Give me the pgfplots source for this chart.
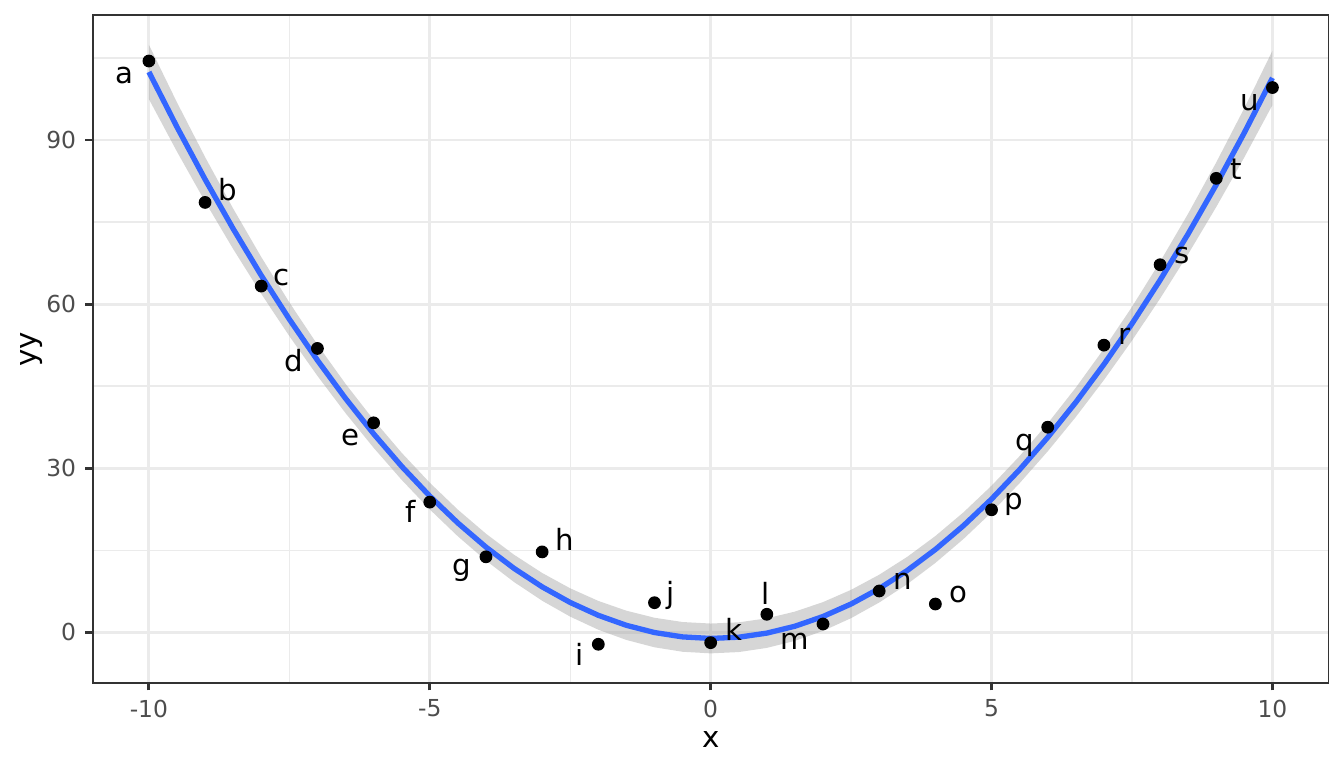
\documentclass[border=0pt]{standalone}
\usepackage{fontspec}
\setmainfont{DejaVu Sans}
\usepackage{pgfplots}
\usepackage{pgfplotstable}
\pgfplotsset{compat=1.18}

\definecolor{gridc}{HTML}{EBEBEB}
\definecolor{frame}{HTML}{333333}
\definecolor{ticktext}{HTML}{4D4D4D}
\definecolor{fitblue}{HTML}{3366FF}
\definecolor{band}{HTML}{999999}

% observed points
\pgfplotstableread{
x   y
-10 104.45
-9  78.6
-8  63.3
-7  51.9
-6  38.3
-5  23.8
-4  13.8
-3  14.7
-2  -2.19
-1  5.41
0   -1.9
1   3.29
2   1.52
3   7.55
4   5.17
5   22.4
6   37.5
7   52.5
8   67.2
9   83.0
10  99.6
}\pts

% label positions (repelled)
\pgfplotstableread{
x      y      lab
-10.43 101.75 a
-8.60  80.86  b
-7.64  64.95  c
-7.42  49.6   d
-6.42  35.6   e
-5.338 22.1   f
-4.423 11.4   g
-2.602 17.0   h
-2.326 -3.97  i
-0.710 6.73   j
0.410  0.51   k
0.972  7.18   l
1.501  -1.65  m
3.423  9.32   n
4.417  6.87   o
5.399  23.46  p
5.595  34.1   q
7.370  54.1   r
8.384  68.8   s
9.363  84.7   t
9.600  96.9   u
}\labs

% quadratic fit
\pgfplotstableread{
x     fit
-10   102.453
-9.5  92.380
-9    82.821
-8.5  73.778
-8    65.251
-7.5  57.238
-7    49.740
-6.5  42.757
-6    36.290
-5.5  30.339
-5    24.902
-4.5  19.982
-4    15.575
-3.5  11.684
-3    8.309
-2.5  5.448
-2    3.102
-1.5  1.271
-1    -0.044
-0.5  -0.843
0     -1.128
0.5   -0.897
1     -0.152
1.5   1.109
2     2.886
2.5   5.177
3     7.984
3.5   11.305
4     15.142
4.5   19.495
5     24.361
5.5   29.744
6     35.641
6.5   42.054
7     48.983
7.5   56.426
8     64.385
8.5   72.858
9     81.847
9.5   91.352
10    101.371
}\fitted

% 95% band outline: upper edge left to right, lower edge right to left
\pgfplotstableread{
x     y
-10   107.416
-9.5  96.879
-9    86.898
-8.5  77.477
-8    68.618
-7.5  60.324
-7    52.596
-6.5  45.437
-6    38.844
-5.5  32.816
-5    27.342
-4.5  22.419
-4    18.033
-3.5  14.180
-3    10.850
-2.5  8.037
-2    5.736
-1.5  3.944
-1    2.658
-0.5  1.877
0     1.599
0.5   1.823
1     2.550
1.5   3.782
2     5.520
2.5   7.766
3     10.525
3.5   13.801
4     17.600
4.5   21.932
5     26.801
5.5   32.221
6     38.195
6.5   44.734
7     51.839
7.5   59.512
8     67.752
8.5   76.557
9     85.924
9.5   95.851
10    106.334
10    96.408
9.5   86.853
9     77.770
8.5   69.159
8     61.018
7.5   53.340
7     46.127
6.5   39.374
6     33.087
5.5   27.267
5     21.921
4.5   17.058
4     12.684
3.5   8.809
3     5.443
2.5   2.588
2     0.252
1.5   -1.564
1     -2.854
0.5   -3.617
0     -3.855
-0.5  -3.563
-1    -2.746
-1.5  -1.402
-2    0.468
-2.5  2.859
-3    5.768
-3.5  9.188
-4    13.117
-4.5  17.545
-5    22.462
-5.5  27.862
-6    33.736
-6.5  40.077
-7    46.884
-7.5  54.152
-8    61.884
-8.5  70.079
-9    78.744
-9.5  87.881
-10   97.490
}\bandpts

\begin{document}
\begin{tikzpicture}
\begin{axis}[
  at={(34.9pt,32pt)}, anchor=south west,
  scale only axis,
  width=465.2pt, height=251.4pt,
  xmin=-11, xmax=11,
  ymin=-9.27, ymax=112.85,
  xtick={-10,-5,0,5,10},
  ytick={0,30,60,90},
  minor xtick={-7.5,-2.5,2.5,7.5},
  minor ytick={15,45,75,105},
  grid=both,
  major grid style={gridc, line width=1.07pt},
  minor grid style={gridc, line width=0.53pt},
  axis line style={frame, line width=0.6pt},
  tick align=outside,
  major tick length=2.75pt,
  minor tick length=0pt,
  tick style={frame, line width=1.07pt},
  xtick pos=left, ytick pos=left,
  /pgf/number format/assume math mode=true,
  ticklabel style={font=\fontsize{8.8}{10}\selectfont, text=ticktext},
  xlabel={x}, ylabel={yy},
  label style={font=\fontsize{11}{13}\selectfont},
  xlabel style={at={(axis description cs:0.5,-0.0841)}, anchor=center},
  ylabel style={at={(axis description cs:-0.0498,0.5)}, anchor=center},
  clip=true,
]
  \addplot[only marks, mark=*, mark size=2.2pt, black] table[x=x, y=y] {\pts};

  \addplot[fill=band, fill opacity=0.4, draw=none] table[x=x, y=y] {\bandpts};

  \addplot[fitblue, line width=2pt] table[x=x, y=fit] {\fitted};

  \addplot[only marks, mark=none,
    nodes near coords, point meta=explicit symbolic,
    nodes near coords style={anchor=center, inner sep=0pt, text=black,
      font=\fontsize{11}{13}\selectfont}]
    table[x=x, y=y, meta=lab] {\labs};
\end{axis}
\pgfresetboundingbox
\path[use as bounding box] (0,0) rectangle (505.89pt,289.08pt);
\end{tikzpicture}
\end{document}
